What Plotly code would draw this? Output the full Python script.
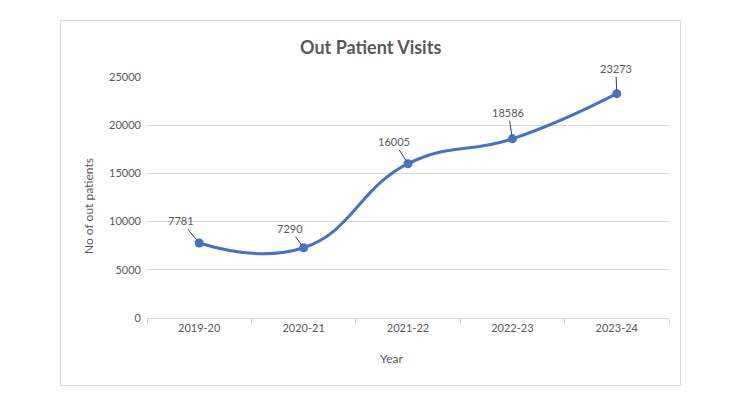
import plotly.graph_objects as go

years = ["2019-20", "2020-21", "2021-22", "2022-23", "2023-24"]
visits = [7781, 7290, 16005, 18586, 23273]
label_dx = [-18, -14, -14, -4, -1]
label_dy = [-22, -19, -22, -26, -25]

W, H = 750, 404
L, R, T, B = 147, 669, 77, 318
pw, ph = R - L, B - T

def px(x):
    return (x - L) / pw

def py(y):
    return (B - y) / ph

gray = "#595959"
fig = go.Figure()
fig.add_trace(go.Scatter(
    x=years, y=visits, mode="lines+markers",
    line=dict(color="#4472C4", width=3, shape="spline", smoothing=1.3),
    marker=dict(color="#4472C4", size=9),
    cliponaxis=False, hoverinfo="x+y",
))

annotations = []
for yr, v, dx, dy in zip(years, visits, label_dx, label_dy):
    annotations.append(dict(
        x=yr, y=v, xref="x", yref="y", text=str(v),
        showarrow=True, arrowhead=0, arrowwidth=1, arrowcolor="#404040",
        ax=dx, ay=dy, standoff=3,
        font=dict(family="Lato", size=11, color=gray),
    ))
annotations.append(dict(
    x=px(370.5), y=py(47), xref="paper", yref="paper", text="<b>Out Patient Visits</b>",
    showarrow=False, xanchor="center", yanchor="middle",
    font=dict(family="Lato", size=18, color=gray),
))
annotations.append(dict(
    x=px(88), y=py(206), xref="paper", yref="paper", text="No of out patients",
    showarrow=False, textangle=-90, xanchor="center", yanchor="middle",
    font=dict(family="Lato", size=12, color=gray),
))
annotations.append(dict(
    x=px(391), y=py(358), xref="paper", yref="paper", text="Year",
    showarrow=False, xanchor="center", yanchor="middle",
    font=dict(family="Lato", size=12, color=gray),
))

fig.update_layout(
    width=W, height=H,
    margin=dict(l=L, r=W - R, t=T, b=H - B),
    paper_bgcolor="white", plot_bgcolor="white",
    showlegend=False,
    annotations=annotations,
    shapes=[dict(type="rect", xref="paper", yref="paper",
                 x0=px(60.5), x1=px(680.5), y0=py(385.5), y1=py(20.5),
                 line=dict(color="#d9d9d9", width=1), fillcolor="rgba(0,0,0,0)", layer="below")],
    font=dict(family="Lato", color=gray),
)
fig.update_xaxes(
    type="category", range=[-0.5, 4.5], showgrid=False,
    showline=True, linecolor="#d9d9d9", linewidth=1,
    ticks="outside", tickson="boundaries", ticklen=5, tickcolor="#d9d9d9",
    tickfont=dict(family="Lato", size=11, color=gray),
)
fig.update_yaxes(
    range=[0, 25000], dtick=5000, tickformat="d", showgrid=True, gridcolor="#d9d9d9", gridwidth=1,
    zeroline=False, showline=False, ticks="", ticklabelstandoff=5,
    tickfont=dict(family="Lato", size=11, color=gray),
)

fig.write_html("out.html")
